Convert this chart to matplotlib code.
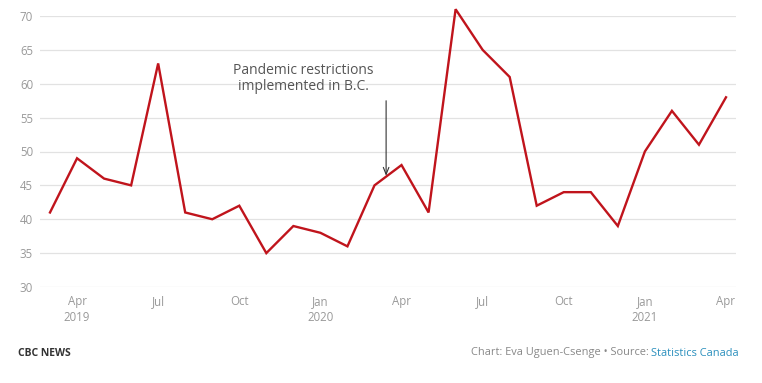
import matplotlib
matplotlib.use("Agg")
import matplotlib.pyplot as plt

plt.rcParams["font.family"] = ["Open Sans", "DejaVu Sans"]

# monthly values, Mar 2019 .. Apr 2021
months = ["Mar 2019", "Apr 2019", "May 2019", "Jun 2019", "Jul 2019", "Aug 2019",
          "Sep 2019", "Oct 2019", "Nov 2019", "Dec 2019", "Jan 2020", "Feb 2020",
          "Mar 2020", "Apr 2020", "May 2020", "Jun 2020", "Jul 2020", "Aug 2020",
          "Sep 2020", "Oct 2020", "Nov 2020", "Dec 2020", "Jan 2021", "Feb 2021",
          "Mar 2021", "Apr 2021"]
values = [41, 49, 46, 45, 63, 41, 40, 42, 35, 39, 38, 36,
          45, 48, 41, 71, 65, 61, 42, 44, 44, 39, 50, 56, 51, 58]

tick_pos = [1, 4, 7, 10, 13, 16, 19, 22, 25]
tick_labels = ["Apr\n2019", "Jul", "Oct", "Jan\n2020", "Apr", "Jul", "Oct", "Jan\n2021", "Apr"]
y_ticks = [30, 35, 40, 45, 50, 55, 60, 65, 70]

W, H = 762, 383
fig = plt.figure(figsize=(W / 100, H / 100), dpi=100)
ax = fig.add_axes([40 / W, 1 - 287 / H, (736 - 40) / W, (287 - 16) / H])

x = list(range(len(values)))
ax.plot(x, values, color="#c0141c", lw=1.7, solid_joinstyle="miter", zorder=3, clip_on=False)

ax.set_ylim(30, 70)
ax.set_xlim(-0.37, 25.37)
ax.set_yticks(y_ticks)
ax.set_xticks(tick_pos)
ax.set_xticklabels(tick_labels, linespacing=1.25)
ax.grid(axis="y", color="#e2e2e2", lw=0.9)
ax.set_axisbelow(True)
for s in ax.spines.values():
    s.set_visible(False)
ax.tick_params(axis="both", length=0, colors="#999999", labelsize=8.3)
ax.tick_params(axis="y", pad=5)
ax.tick_params(axis="x", pad=6)

# annotation for pandemic restrictions
ax.text(9.36, 63.1, "Pandemic restrictions\nimplemented in B.C.",
        ha="center", va="top", fontsize=10, color="#555555", linespacing=1.15)
ax.annotate("", xy=(12.43, 46.0), xytext=(12.43, 57.9),
            arrowprops=dict(arrowstyle="->,head_length=0.5,head_width=0.2",
                            color="#333333", lw=0.8))

fig.text(18 / W, 1 - 353 / H, "CBC NEWS", fontsize=7.5, fontweight="bold",
         color="#333333", va="center", ha="left")
src = fig.text(739 / W, 1 - 353 / H, "Statistics Canada", fontsize=7.9,
               color="#2a8fbd", va="center", ha="right")
fig.canvas.draw()
bb = src.get_window_extent()
fig.text(bb.x0 / W, 1 - 353 / H, "Chart: Eva Uguen-Csenge \u2022 Source: ", fontsize=7.9,
         color="#888888", va="center", ha="right")

fig.savefig("out.png", dpi=100)
